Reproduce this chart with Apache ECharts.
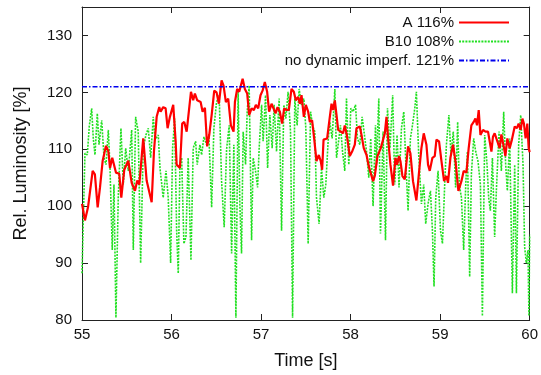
<!DOCTYPE html>
<html>
<head>
<meta charset="utf-8">
<script src="https://cdn.jsdelivr.net/npm/echarts@6/dist/echarts.min.js"></script>
<style>
  html, body { margin: 0; padding: 0; background: #fff; }
  #chart { width: 541px; height: 375px; }
</style>
</head>
<body>
<div id="chart"></div>
<script>
// series A (red)
const aT = [55.000,55.033,55.067,55.119,55.144,55.175,55.201,55.231,55.268,55.294,55.313,55.338,55.379,55.416,55.439,55.472,55.517,55.555,55.592,55.617,55.640,55.684,55.722,55.778,55.804,55.834,55.863,55.878,55.907,55.934,55.956,55.982,56.001,56.019,56.046,56.057,56.094,56.119,56.142,56.169,56.186,56.217,56.242,56.261,56.287,56.325,56.347,56.373,56.398,56.421,56.448,56.477,56.503,56.529,56.559,56.581,56.607,56.633,56.663,56.693,56.708,56.733,56.756,56.794,56.819,56.845,56.867,56.894,56.920,56.942,56.968,56.994,57.017,57.042,57.068,57.090,57.117,57.135,57.162,57.184,57.210,57.235,57.258,57.285,57.310,57.340,57.366,57.388,57.414,57.433,57.452,57.478,57.500,57.526,57.545,57.570,57.593,57.619,57.645,57.667,57.682,57.698,57.712,57.738,57.768,57.787,57.805,57.824,57.843,57.861,57.891,57.916,57.935,57.958,57.991,58.017,58.047,58.066,58.084,58.103,58.122,58.147,58.178,58.203,58.225,58.251,58.270,58.300,58.337,58.382,58.401,58.419,58.445,58.474,58.501,58.519,58.541,58.557,58.579,58.605,58.642,58.668,58.697,58.735,58.764,58.791,58.817,58.847,58.865,58.884,58.914,58.940,58.959,58.988,59.015,59.044,59.070,59.088,59.115,59.144,59.174,59.204,59.238,59.263,59.294,59.319,59.349,59.375,59.394,59.412,59.431,59.450,59.479,59.506,59.535,59.557,59.573,59.590,59.609,59.628,59.646,59.665,59.684,59.710,59.729,59.751,59.777,59.802,59.833,59.858,59.877,59.900,59.919,59.936,59.955,59.974,59.989,60.000];
const aV = [100.4,97.5,99.8,106.2,105.6,99.8,103.3,108.0,110.6,109.7,106.7,108.5,105.9,105.7,101.5,106.4,108.0,104.1,102.7,104.5,103.8,111.9,104.5,100.7,109.7,115.7,117.4,116.6,117.4,117.2,113.7,115.7,115.4,117.8,111.4,107.3,106.7,114.5,114.8,113.1,112.8,120.1,118.6,119.8,118.6,118.3,116.6,117.3,110.5,112.5,116.0,120.3,120.0,118.0,122.1,121.2,118.3,118.9,114.2,113.1,118.3,120.6,120.1,122.4,120.6,119.8,116.0,117.2,116.9,117.8,117.2,119.5,120.3,121.8,120.1,116.6,118.0,118.0,116.3,117.4,116.6,114.5,117.2,116.9,116.9,120.6,120.1,118.6,119.2,118.0,119.5,115.7,117.8,116.6,114.8,115.1,111.9,107.9,109.0,107.9,106.4,111.7,111.9,111.9,115.7,118.0,116.9,118.6,116.0,113.4,113.1,112.8,114.2,112.5,108.8,109.6,110.8,113.7,113.4,114.0,112.5,110.2,109.0,107.0,107.3,104.4,105.3,108.8,110.2,112.8,115.7,111.9,107.3,103.6,108.5,107.3,108.8,107.9,105.3,104.7,110.5,109.3,104.4,101.0,105.9,110.2,112.8,110.8,107.3,106.2,108.5,108.8,111.7,111.4,107.9,104.4,105.3,104.1,108.5,110.8,107.6,102.7,104.4,106.2,105.9,110.2,114.2,114.8,115.4,114.2,116.9,112.5,113.4,113.1,113.1,113.4,109.6,112.2,112.8,111.9,111.9,110.2,112.6,110.5,108.8,111.9,110.2,111.7,114.0,113.7,114.5,113.4,115.4,114.5,111.9,114.5,110.2,109.5];

// series B10 (green)
const bT = [55.000,55.033,55.059,55.081,55.108,55.126,55.145,55.171,55.190,55.220,55.246,55.268,55.294,55.313,55.338,55.357,55.379,55.405,55.435,55.461,55.488,55.517,55.555,55.573,55.599,55.628,55.655,55.684,55.714,55.740,55.767,55.796,55.815,55.852,55.871,55.907,55.938,55.963,55.990,56.012,56.035,56.057,56.075,56.094,56.113,56.138,56.161,56.186,56.217,56.242,56.269,56.287,56.317,56.336,56.362,56.392,56.417,56.448,56.473,56.503,56.532,56.559,56.588,56.615,56.644,56.671,56.696,56.719,56.744,56.763,56.782,56.800,56.827,56.845,56.867,56.894,56.912,56.938,56.961,56.979,57.006,57.023,57.050,57.073,57.098,57.124,57.146,57.173,57.202,57.229,57.254,57.277,57.302,57.329,57.352,57.377,57.403,57.425,57.452,57.478,57.500,57.526,57.553,57.575,57.600,57.619,57.648,57.675,57.701,57.723,57.749,57.768,57.794,57.824,57.843,57.861,57.887,57.910,57.935,57.954,57.980,58.002,58.028,58.055,58.077,58.103,58.129,58.151,58.178,58.203,58.225,58.251,58.278,58.289,58.315,58.334,58.363,58.390,58.412,58.440,58.470,58.493,58.519,58.541,58.568,58.594,58.616,58.642,58.668,58.691,58.717,58.735,58.761,58.791,58.817,58.839,58.865,58.892,58.914,58.932,58.951,58.977,59.004,59.026,59.051,59.070,59.098,59.121,59.147,59.173,59.196,59.214,59.238,59.263,59.286,59.305,59.330,59.349,59.375,59.397,59.423,59.450,59.472,59.498,59.524,59.542,59.561,59.584,59.609,59.628,59.658,59.684,59.710,59.732,59.751,59.777,59.807,59.833,59.852,59.877,59.900,59.926,59.944,59.963,59.981,59.992,60.000];
const bV = [88.2,109.3,109.0,114.0,117.2,111.9,109.0,116.3,110.8,115.1,108.5,107.3,113.4,106.7,92.3,103.8,80.4,101.5,113.7,103.8,110.2,106.2,113.4,92.3,115.7,113.1,90.0,110.2,112.5,113.7,108.5,115.7,111.7,112.5,106.7,101.5,106.2,101.5,90.0,110.2,115.4,95.7,88.2,107.3,108.5,93.4,94.6,108.5,90.5,110.2,111.4,107.3,110.8,109.0,112.2,110.8,112.5,99.8,113.7,118.3,119.5,104.4,96.3,110.0,114.2,91.7,110.8,80.4,120.1,100.4,91.7,113.1,107.3,116.6,121.2,94.0,108.5,106.2,103.3,110.2,117.8,111.4,119.5,106.7,116.0,110.2,117.8,109.6,118.9,95.7,117.8,115.4,120.1,113.1,80.4,118.9,114.2,120.6,117.8,118.9,113.7,93.4,116.6,114.2,113.1,101.5,96.9,106.7,101.5,103.8,111.4,114.8,111.9,120.6,108.5,110.8,114.2,109.6,106.2,118.9,107.3,117.2,116.6,117.8,111.9,110.8,115.7,115.4,109.6,105.0,111.9,100.0,114.2,107.3,118.9,95.2,113.1,94.0,117.2,110.2,119.5,103.8,112.5,103.3,113.7,116.6,107.9,99.2,111.9,114.2,117.2,120.1,109.0,100.4,103.8,96.9,100.4,102.7,95.7,85.9,101.5,106.2,95.7,93.4,103.8,110.8,116.0,109.0,113.1,103.3,114.8,103.8,101.5,92.3,103.8,109.6,87.6,105.6,111.9,109.6,107.9,103.8,80.7,112.5,107.3,101.5,99.2,108.5,94.6,102.7,113.1,106.2,116.6,107.3,102.7,111.9,84.7,107.3,84.7,110.8,116.0,107.3,92.8,90.0,92.3,80.7,95.0];

// reference level (blue)
const refT = [55, 60];
const refV = [121, 121];

const seriesNames = ['A 116%', 'B10 108%', 'no dynamic imperf. 121%'];
const xTicks = [55, 56, 57, 58, 59, 60];
const yMin = 80, yMax = 135, yStep = 10;

const pairs = (t, v) => t.map((x, i) => [x, v[i]]);

const chart = echarts.init(document.getElementById('chart'));
const FONT = 'Liberation Sans';
const frame = { show: true, lineStyle: { color: '#222', width: 1 } };

chart.setOption({
  animation: false,
  textStyle: { fontFamily: FONT },
  grid: { left: 82, right: 11, top: 7, bottom: 51 },
  legend: {
    orient: 'vertical',
    right: 26,
    top: 10,
    align: 'right',
    itemWidth: 50,
    itemHeight: 14,
    itemGap: 4,
    itemStyle: { opacity: 0 },
    textStyle: { fontFamily: FONT, fontSize: 15, color: '#111' },
    data: seriesNames
  },
  xAxis: [
    {
      type: 'value', min: xTicks[0], max: xTicks[xTicks.length - 1], interval: 1,
      name: 'Time [s]', nameLocation: 'middle', nameGap: 32,
      nameTextStyle: { fontFamily: FONT, fontSize: 18, color: '#111' },
      axisLine: frame,
      axisTick: { inside: true, length: 6, lineStyle: { color: '#222' } },
      axisLabel: { fontFamily: FONT, fontSize: 15, color: '#111', margin: 7 },
      splitLine: { show: false }
    },
    {
      type: 'value', position: 'top', min: xTicks[0], max: xTicks[xTicks.length - 1], interval: 1,
      axisLine: frame,
      axisTick: { inside: true, length: 6, lineStyle: { color: '#222' } },
      axisLabel: { show: false },
      splitLine: { show: false }
    }
  ],
  yAxis: [
    {
      type: 'value', min: yMin, max: yMax, interval: yStep,
      name: 'Rel. Luminosity [%]', nameLocation: 'middle', nameGap: 52, nameRotate: 90,
      nameTextStyle: { fontFamily: FONT, fontSize: 18, color: '#111' },
      axisLine: frame,
      axisTick: { inside: true, length: 6, lineStyle: { color: '#222' } },
      axisLabel: {
        fontFamily: FONT, fontSize: 15, color: '#111', margin: 10,
        formatter: (v) => (v % yStep === 0 ? String(v) : '')
      },
      splitLine: { show: false }
    },
    {
      type: 'value', position: 'right', min: yMin, max: yMax, interval: yStep,
      axisLine: frame,
      axisTick: { inside: true, length: 6, lineStyle: { color: '#222' } },
      axisLabel: { show: false },
      splitLine: { show: false }
    }
  ],
  series: [
    {
      name: seriesNames[1], type: 'line', data: pairs(bT, bV),
      symbol: 'none', z: 2,
      lineStyle: { color: '#22e022', width: 1.6, type: [2, 1.2] },
      itemStyle: { color: '#22e022' }
    },
    {
      name: seriesNames[0], type: 'line', data: pairs(aT, aV),
      symbol: 'none', z: 3,
      lineStyle: { color: '#ff0000', width: 2.2 },
      itemStyle: { color: '#ff0000' }
    },
    {
      name: seriesNames[2], type: 'line', data: pairs(refT, refV),
      symbol: 'none', z: 4,
      lineStyle: { color: '#0000ee', width: 1.5, type: [5, 2, 1.5, 2] },
      itemStyle: { color: '#0000ee' }
    }
  ]
});
</script>
</body>
</html>
